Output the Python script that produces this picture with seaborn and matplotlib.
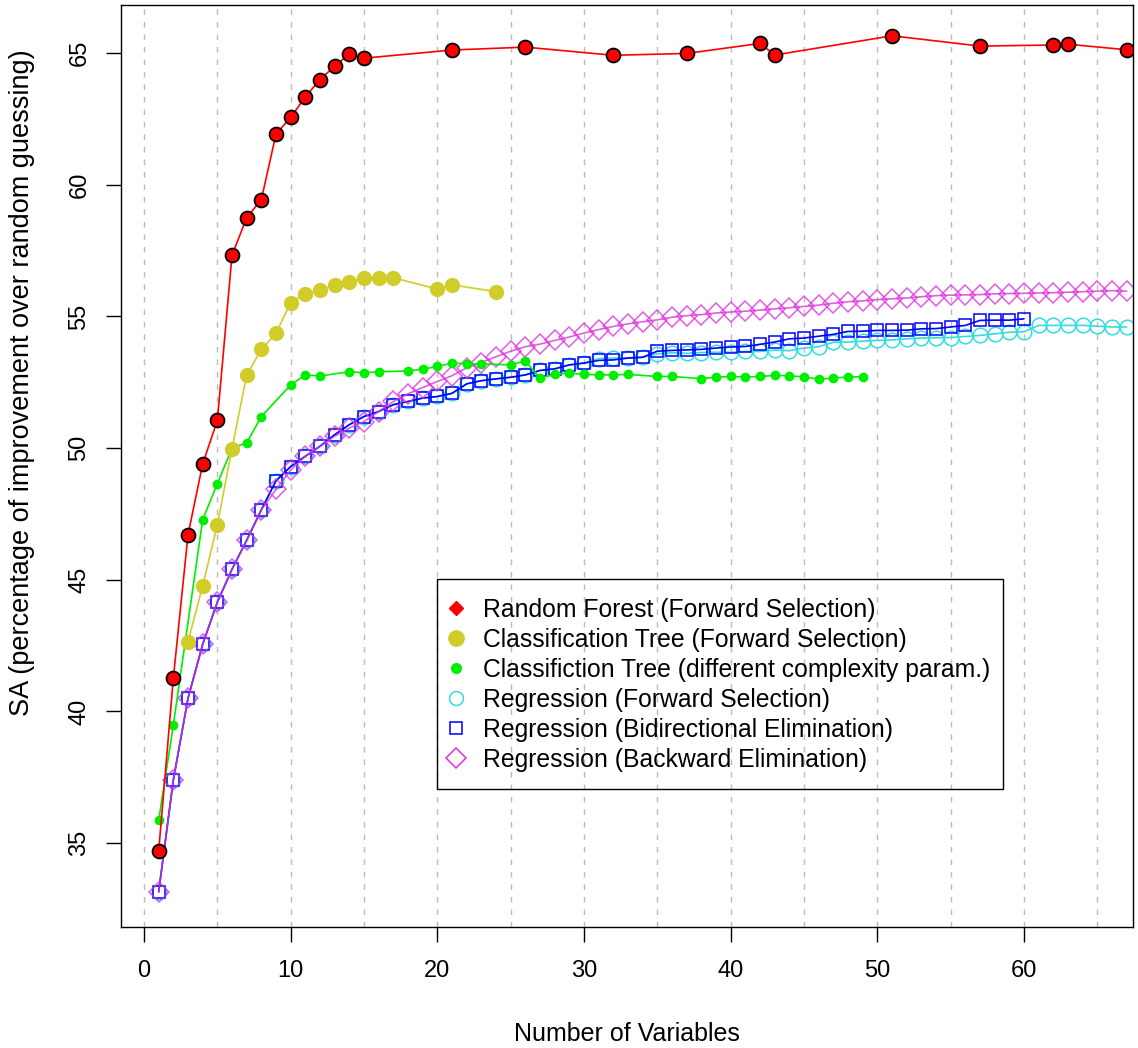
import matplotlib
matplotlib.use('Agg')
import matplotlib.pyplot as plt
from matplotlib.lines import Line2D
from matplotlib.patches import Rectangle
import seaborn as sns

sns.set_style('white')
plt.rcParams['font.family'] = ['Liberation Sans', 'DejaVu Sans']
plt.rcParams['text.color'] = 'black'
plt.rcParams['axes.labelcolor'] = 'black'

# Random Forest (Forward Selection)
rf_x = [1, 2, 3, 4, 5, 6, 7, 8, 9, 10, 11, 12, 13, 14, 15, 21, 26, 32, 37, 42, 43, 51, 57, 62, 63, 67]
rf_y = [34.70, 41.27, 46.71, 49.40, 51.05, 57.33, 58.75, 59.44, 61.93, 62.56, 63.34, 64.00, 64.51,
        64.97, 64.81, 65.12, 65.23, 64.92, 64.99, 65.37, 64.93, 65.66, 65.27, 65.31, 65.34, 65.13]

# Classification Tree (Forward Selection)
ct_x = [3, 4, 5, 6, 7, 8, 9, 10, 11, 12, 13, 14, 15, 16, 17, 20, 21, 24]
ct_y = [42.65, 44.77, 47.09, 49.98, 52.78, 53.75, 54.36, 55.53, 55.86, 55.99, 56.18, 56.32,
        56.45, 56.47, 56.47, 56.04, 56.20, 55.94]

# Classifiction Tree (different complexity param.)
cp_x = [1, 2, 4, 5, 6, 7, 8, 10, 11, 12, 14, 15, 16, 18, 19, 20, 21, 22, 23, 25, 26, 27, 28, 29,
        30, 31, 32, 33, 35, 36, 38, 39, 40, 41, 42, 43, 44, 45, 46, 47, 48, 49]
cp_y = [35.87, 39.49, 47.28, 48.65, 50.00, 50.20, 51.20, 52.40, 52.78, 52.74, 52.90, 52.86, 52.90,
        52.93, 53.00, 53.10, 53.23, 53.20, 53.20, 53.16, 53.31, 52.66, 52.80, 52.85, 52.80, 52.78,
        52.78, 52.80, 52.72, 52.72, 52.64, 52.69, 52.72, 52.70, 52.72, 52.76, 52.75, 52.70, 52.62,
        52.66, 52.70, 52.71]

# Regression (Forward Selection)
fw_x = list(range(1, 68))
fw_y = [33.15, 37.40, 40.50, 42.55, 44.15, 45.40, 46.50, 47.66, 48.76, 49.30, 49.69, 50.07, 50.51,
        50.89, 51.20, 51.39, 51.65, 51.77, 51.90, 51.96, 52.08, 52.44, 52.56, 52.63, 52.69, 52.78,
        52.95, 53.01, 53.16, 53.23, 53.40, 53.42, 53.43, 53.45, 53.58, 53.62, 53.60, 53.63, 53.64,
        53.64, 53.67, 53.67, 53.72, 53.70, 53.80, 53.85, 54.02, 54.03, 54.06, 54.09, 54.11, 54.15,
        54.18, 54.19, 54.20, 54.24, 54.28, 54.34, 54.40, 54.42, 54.66, 54.66, 54.66, 54.66, 54.63,
        54.60, 54.60]

# Regression (Bidirectional Elimination)
bi_x = list(range(1, 61))
bi_y = [33.15, 37.40, 40.50, 42.55, 44.15, 45.40, 46.50, 47.66, 48.76, 49.30, 49.69, 50.07, 50.51,
        50.89, 51.20, 51.39, 51.65, 51.77, 51.90, 51.96, 52.08, 52.44, 52.56, 52.63, 52.69, 52.78,
        52.95, 53.01, 53.16, 53.23, 53.33, 53.35, 53.42, 53.45, 53.68, 53.71, 53.73, 53.75, 53.80,
        53.84, 53.86, 53.94, 54.03, 54.15, 54.18, 54.25, 54.32, 54.43, 54.44, 54.47, 54.47, 54.48,
        54.53, 54.54, 54.60, 54.66, 54.85, 54.86, 54.86, 54.91]

# Regression (Backward Elimination)
bw_x = list(range(1, 68))
bw_y = [33.15, 37.40, 40.50, 42.55, 44.15, 45.40, 46.50, 47.66, 48.43, 49.17, 49.69, 50.07, 50.45,
        50.76, 51.01, 51.39, 51.77, 52.06, 52.30, 52.53, 52.75, 53.05, 53.25, 53.47, 53.68, 53.85,
        53.95, 54.09, 54.22, 54.37, 54.50, 54.62, 54.72, 54.80, 54.87, 54.97, 55.03, 55.07, 55.13,
        55.17, 55.20, 55.24, 55.29, 55.33, 55.38, 55.43, 55.50, 55.56, 55.59, 55.64, 55.67, 55.70,
        55.75, 55.79, 55.81, 55.82, 55.83, 55.86, 55.87, 55.88, 55.89, 55.90, 55.92, 55.94, 55.96,
        55.98, 55.96]

labels = ['Random Forest (Forward Selection)',
          'Classification Tree (Forward Selection)',
          'Classifiction Tree (different complexity param.)',
          'Regression (Forward Selection)',
          'Regression (Bidirectional Elimination)',
          'Regression (Backward Elimination)']

c_red = '#ff0000'
c_yel = '#d2cc2a'
c_grn = '#00ee00'
c_cya = '#33dddd'
c_blu = '#0000ff'
c_mag = '#dd33dd'

fig = plt.figure(figsize=(11.38, 10.48), dpi=100)
ax = fig.add_axes([121 / 1138, 121 / 1048, 1012 / 1138, 922 / 1048])

for v in range(0, 70, 5):
    ax.axvline(v, color='#bbbbbb', lw=1.0, dashes=(4, 5), zorder=0)

lw = 1.2
sns.lineplot(x=fw_x, y=fw_y, ax=ax, color=c_cya, lw=lw, marker='o', markersize=10.5,
             markerfacecolor='none', markeredgecolor=c_cya, markeredgewidth=1.1)
sns.lineplot(x=bi_x, y=bi_y, ax=ax, color=c_blu, lw=lw, marker='s', markersize=8.5,
             markerfacecolor='none', markeredgecolor=c_blu, markeredgewidth=1.1)
sns.lineplot(x=bw_x, y=bw_y, ax=ax, color=c_mag, lw=lw, marker='D', markersize=10.5,
             markerfacecolor='none', markeredgecolor=c_mag, markeredgewidth=1.1, alpha=0.8)
sns.lineplot(x=cp_x, y=cp_y, ax=ax, color=c_grn, lw=lw, marker='o', markersize=7,
             markerfacecolor=c_grn, markeredgecolor=c_grn, markeredgewidth=0)
sns.lineplot(x=ct_x, y=ct_y, ax=ax, color=c_yel, lw=lw, marker='o', markersize=11,
             markerfacecolor=c_yel, markeredgecolor=c_yel, markeredgewidth=0)
sns.lineplot(x=rf_x, y=rf_y, ax=ax, color=c_red, lw=lw, marker='o', markersize=10,
             markerfacecolor=c_red, markeredgecolor='black', markeredgewidth=1.3)

ax.set_xlim(-1.57, 67.43)
ax.set_ylim(31.81, 66.83)
ax.set_xticks(range(0, 70, 10))
ax.set_yticks(range(35, 70, 5))
ax.tick_params(axis='both', direction='out', length=11, width=1, labelsize=17,
               bottom=True, left=True, colors='black', labelcolor='black')
ax.tick_params(axis='x', pad=13)
ax.tick_params(axis='y', pad=11)
for lab in ax.get_yticklabels():
    lab.set_rotation(90)
    lab.set_va('center')
for s in ax.spines.values():
    s.set_color('black')
    s.set_linewidth(1.0)

ax.set_xlabel('Number of Variables', fontsize=18, color='black')
ax.set_ylabel('SA (percentage of improvement over random guessing)', fontsize=19.5, color='black')
ax.xaxis.set_label_coords(0.5, -0.103)
ax.yaxis.set_label_coords(-0.085, 0.59)

# legend box (transparent, gridlines show through)
ax.add_patch(Rectangle((0.3123, 0.1497), 0.5593, 0.2278, transform=ax.transAxes,
                       fill=False, edgecolor='black', lw=1.0, zorder=5))

handles = [
    Line2D([], [], ls='none', marker='D', markersize=7, color=c_red),
    Line2D([], [], ls='none', marker='o', markersize=11, color=c_yel),
    Line2D([], [], ls='none', marker='o', markersize=7, color=c_grn),
    Line2D([], [], ls='none', marker='o', markersize=10, markerfacecolor='none',
           markeredgecolor=c_cya, markeredgewidth=1.1),
    Line2D([], [], ls='none', marker='s', markersize=8.5, markerfacecolor='none',
           markeredgecolor=c_blu, markeredgewidth=1.1),
    Line2D([], [], ls='none', marker='D', markersize=10, markerfacecolor='none',
           markeredgecolor=c_mag, markeredgewidth=1.1),
]
leg = ax.legend(handles, labels, loc='upper left', bbox_to_anchor=(0.3211, 0.3568),
                borderaxespad=0, borderpad=0, fontsize=17.8, frameon=False,
                labelspacing=0.24, handlelength=0.8, handletextpad=0.7)
for t in leg.get_texts():
    t.set_color('black')

fig.savefig('out.png', dpi=100)
